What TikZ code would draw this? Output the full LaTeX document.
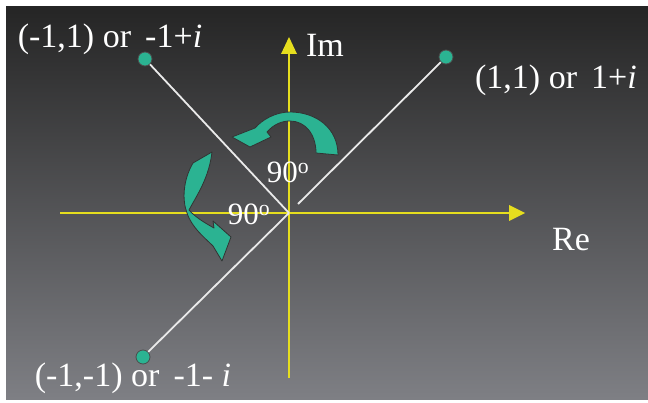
\documentclass[tikz,border=0pt]{standalone}
\usepackage{fontspec}
\setmainfont{Liberation Serif}
\definecolor{axisyellow}{HTML}{E6DE1E}
\definecolor{teal1}{HTML}{2BB392}
\definecolor{bgtop}{HTML}{252525}
\definecolor{bgbot}{HTML}{7E7F84}
\definecolor{linewhite}{HTML}{EAEAEA}
\tikzset{
  axisline/.style={axisyellow, line width=2.6pt},
  vecline/.style={linewhite, line width=1.8pt},
  dotstyle/.style={circle, fill=teal1, draw=black!70, line width=0.8pt, minimum size=14pt, inner sep=0pt},
  lbl/.style={text=white, font=\fontsize{34}{38}\selectfont, inner sep=0pt},
  rotarrow/.style={fill=teal1, draw=black!80, line width=0.8pt, line join=round},
}
\begin{document}
\begin{tikzpicture}[x=1pt,y=-1pt]
\useasboundingbox (0,0) rectangle (648,403);
\fill[white] (0,0) rectangle (648,403);
\shade[top color=bgtop, bottom color=bgbot] (6,7) rectangle (648,399);
% axes
\coordinate (O) at (289,213);
\coordinate (xl) at (60,213);
\coordinate (xr) at (510,213);
\coordinate (yb) at (289,378);
\coordinate (yt) at (289,52);
\draw[axisline] (xl) -- (xr);
\draw[axisline] (yb) -- (yt);
\fill[axisyellow] (525,213) -- (509,205) -- (509,221) -- cycle;
\fill[axisyellow] (289,37) -- (281,54) -- (297,54) -- cycle;
% vectors
\node[dotstyle] (p1) at (145,59) {};
\node[dotstyle] (p2) at (446,57) {};
\node[dotstyle] (p3) at (143,357) {};
\coordinate (gap) at (298,204);
\draw[vecline] (p1) -- (O);
\draw[vecline] (p2) -- (gap);
\draw[vecline] (O) -- (p3);
% labels
\node[lbl] (l1) at (110,39) {(-1,1) or \,-1+\textit{i}};
\node[lbl] (l2) at (556,80) {(1,1) or \,1+\textit{i}};
\node[lbl] (l3) at (133,378) {(-1,-1) or \,-1- \textit{i}};
\node[lbl] (re) at (571,240) {Re};
\node[lbl] (im) at (325,45) {Im};
\node[lbl, font=\fontsize{31}{34}\selectfont] (a1) at (288,172) {90\textsuperscript{o}};
\node[lbl, font=\fontsize{31}{34}\selectfont] (a2) at (249,214) {90\textsuperscript{o}};
% rotation arrows
\draw[rotarrow] (338,155) .. controls (338,128) and (316,112) .. (290,112)
  .. controls (275,112) and (262,120) .. (255,128)
  -- (232,137) -- (250,147) -- (271,137) -- (267,132)
  .. controls (274,124) and (282,121) .. (290,121)
  .. controls (305,121) and (316,134) .. (316,153) -- cycle;
\draw[rotarrow] (193,163) .. controls (183,180) and (182,200) .. (187,213)
  .. controls (192,228) and (205,238) .. (213,246)
  -- (222,261) -- (231,237) -- (213,221) -- (214,228)
  .. controls (205,223) and (195,217) .. (189,210)
  .. controls (197,195) and (209,178) .. (212,152) -- cycle;
\end{tikzpicture}
\end{document}
